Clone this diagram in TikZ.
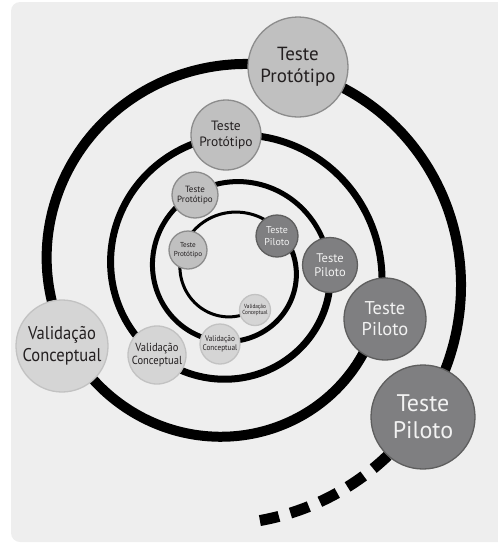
\documentclass[tikz,border=0pt]{standalone}
\usepackage{fontspec}
\setmainfont{PT Sans}
\newfontfamily\narrowsans{PT Sans}[FakeStretch=0.9]
\definecolor{panel}{HTML}{EEEEEE}
\definecolor{vcfill}{HTML}{D5D5D5}
\definecolor{vcline}{HTML}{C2C2C2}
\definecolor{tpfill}{HTML}{C0C0C0}
\definecolor{tpline}{HTML}{8C8C8C}
\definecolor{plfill}{HTML}{7F7F81}
\definecolor{plline}{HTML}{5E5E5E}
\definecolor{txtdark}{HTML}{231F20}
\definecolor{txtlight}{HTML}{F2F2F2}
\newcommand\stagefont[2]{\fontsize{#1}{#2}\selectfont}
\begin{document}
\begin{tikzpicture}[x=1pt,y=-1pt,
  declare function={sr(\t)=52*exp(0.0011722*(-180-\t));},
  spiral/.style={line width=#1, line cap=butt, line join=round, black},
  stage/.style={circle, inner sep=0pt, line width=1.3pt, align=center},
  valid/.style={stage, fill=vcfill, draw=vcline, text=txtdark},
  proto/.style={stage, fill=tpfill, draw=tpline, text=txtdark},
  pilot/.style={stage, fill=plfill, draw=plline, text=txtlight},
]
\useasboundingbox (0,0) rectangle (498,544);
% panel behind the spiral
\fill[panel, rounded corners=9pt] (11,2) rectangle (512,542);

% spiral, one turn per stroke width
\draw[spiral=3pt]  plot[domain=-58.8:-322.7, samples=80, smooth] ({232+sr(\x)*cos(\x)},{270-sr(\x)*sin(\x)});
\draw[spiral=5pt]  plot[domain=-322.7:-717.1, samples=100, smooth] ({232+sr(\x)*cos(\x)},{270-sr(\x)*sin(\x)});
\draw[spiral=7pt]  plot[domain=-717.1:-1097.8, samples=100, smooth] ({232+sr(\x)*cos(\x)},{270-sr(\x)*sin(\x)});
\draw[spiral=10pt] plot[domain=-1097.8:-1477.6, samples=100, smooth] ({232+sr(\x)*cos(\x)},{270-sr(\x)*sin(\x)});
\draw[spiral=11pt, dash pattern=on 19.5pt off 12pt] plot[domain=-1490:-1524.1, samples=30, smooth] ({232+sr(\x)*cos(\x)},{270-sr(\x)*sin(\x)});

% first turn
\node[valid, minimum size=31pt, font=\narrowsans\stagefont{5.9}{6.8}]  (vc1) at (255,310) {Validação\\Conceptual};
\node[proto, minimum size=38pt, font=\stagefont{7.2}{8.5}] (tp1) at (188,250) {Teste\\Protótipo};
\node[pilot, minimum size=42pt, font=\stagefont{10}{11.5}] (pl1) at (277,236) {Teste\\Piloto};
% second turn
\node[valid, minimum size=40pt, font=\narrowsans\stagefont{8.1}{9.6}]  (vc2) at (220,344) {Validação\\Conceptual};
\node[proto, minimum size=46pt, font=\stagefont{9}{10.5}]  (tp2) at (195,195) {Teste\\Protótipo};
\node[pilot, minimum size=55pt, font=\stagefont{12.5}{14}] (pl2) at (330,265) {Teste\\Piloto};
% third turn
\node[valid, minimum size=58pt, font=\narrowsans\stagefont{11.7}{13.5}] (vc3) at (157,355) {Validação\\Conceptual};
\node[proto, minimum size=70pt, font=\stagefont{13.5}{16}] (tp3) at (226,135) {Teste\\Protótipo};
\node[pilot, minimum size=82pt, font=\stagefont{18.5}{21}] (pl3) at (385,319) {Teste\\Piloto};
% outer turn
\node[valid, minimum size=92pt, font=\narrowsans\stagefont{18.4}{21.5}] (vc4) at (62,346) {Validação\\Conceptual};
\node[proto, minimum size=100pt, font=\stagefont{19}{22}]  (tp4) at (298,67) {Teste\\Protótipo};
\node[pilot, minimum size=104pt, font=\stagefont{24}{27}]  (pl4) at (423,417) {Teste\\Piloto};
\end{tikzpicture}
\end{document}
